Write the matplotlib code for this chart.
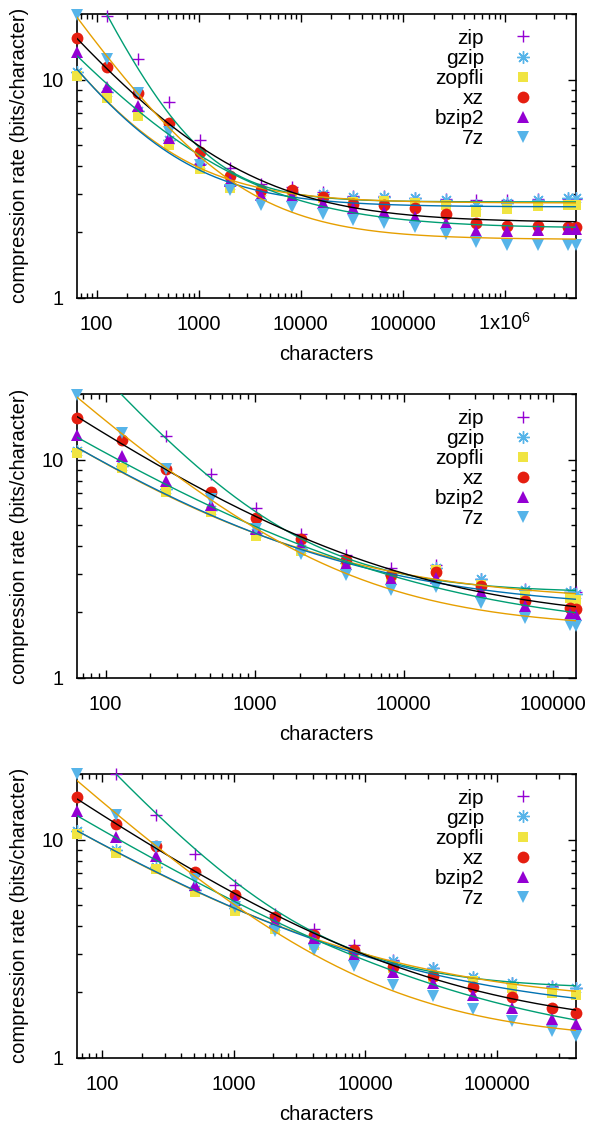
import numpy as np
import matplotlib.pyplot as plt
from matplotlib.ticker import LogLocator, FuncFormatter, NullFormatter
from matplotlib.lines import Line2D

plt.rcParams['font.family'] = ['Liberation Sans', 'DejaVu Sans']
plt.rcParams['mathtext.fontset'] = 'custom'
plt.rcParams['mathtext.rm'] = 'Liberation Sans'
plt.rcParams['mathtext.it'] = 'Liberation Sans'

# compressors, in legend order
names = ['zip', 'gzip', 'zopfli', 'xz', 'bzip2', '7z']

# top panel: prefixes 2^6 .. 2^22 plus the whole file
top_chars = [64, 128, 256, 512, 1024, 2048, 4096, 8192, 16384, 32768, 65536,
             131072, 262144, 524288, 1048576, 2097152, 4194304, 4940000]
top_zip = [36.0, 19.6, 12.4, 7.9, 5.27, 3.94, 3.34, 3.22, 3.04, 2.92, 2.93, 2.88, 2.85, 2.82, 2.82, 2.83, 2.85, 2.85]
top_gzip = [10.9, 8.8, 7.2, 5.3, 4.1, 3.3, 3.1, 3.05, 3.0, 2.9, 2.9, 2.87, 2.82, 2.67, 2.73, 2.8, 2.87, 2.87]
top_zopfli = [10.4, 8.24, 6.79, 5.0, 3.91, 3.19, 3.04, 2.97, 2.87, 2.75, 2.77, 2.73, 2.66, 2.48, 2.55, 2.63, 2.67, 2.67]
top_xz = [15.5, 11.4, 8.72, 6.35, 4.66, 3.62, 3.13, 3.11, 2.9, 2.70, 2.67, 2.57, 2.43, 2.19, 2.14, 2.13, 2.11, 2.11]
top_bzip2 = [13.4, 9.25, 7.57, 5.40, 4.27, 3.43, 2.95, 2.92, 2.72, 2.57, 2.48, 2.35, 2.20, 2.02, 2.02, 2.04, 2.06, 2.06]
top_7z = [19.8, 12.4, 8.72, 5.76, 4.08, 3.13, 2.66, 2.61, 2.43, 2.27, 2.21, 2.11, 1.97, 1.80, 1.75, 1.74, 1.75, 1.75]
# fitted curves a + (f0 - a) * (x/64)^-c
top_fit_a = [2.75, 2.72, 2.61, 2.21, 2.08, 1.85]
top_fit_f0 = [36.6, 11.2, 11.2, 15.5, 12.9, 19.4]
top_fit_c = [1.0, 0.7, 0.7, 0.57, 0.54, 0.69]

# middle panel: 2^6 .. 2^17 plus the whole file
mid_chars = [64, 128, 256, 512, 1024, 2048, 4096, 8192, 16384, 32768, 65536, 131072, 142600]
mid_zip = [33.0, 21.5, 12.8, 8.63, 6.0, 4.58, 3.67, 3.19, 3.28, 2.83, 2.55, 2.48, 2.48]
mid_gzip = [11.0, 9.4, 7.3, 5.9, 4.6, 3.9, 3.35, 2.95, 3.19, 2.83, 2.52, 2.48, 2.43]
mid_zopfli = [10.7, 9.16, 7.11, 5.76, 4.47, 3.81, 3.28, 2.87, 3.11, 2.66, 2.37, 2.31, 2.27]
mid_xz = [15.5, 12.3, 9.1, 7.11, 5.42, 4.32, 3.46, 2.97, 3.06, 2.63, 2.24, 2.09, 2.06]
mid_bzip2 = [13.0, 10.4, 7.98, 6.18, 4.8, 4.05, 3.32, 2.85, 2.87, 2.48, 2.14, 1.97, 1.94]
mid_7z = [19.7, 13.2, 9.03, 6.58, 4.8, 3.71, 2.95, 2.52, 2.61, 2.21, 1.87, 1.74, 1.73]
mid_fit_a = [2.45, 2.22, 2.04, 1.77, 1.6, 1.68]
mid_fit_f0 = [32.8, 11.4, 11.4, 15.8, 12.7, 19.4]
mid_fit_c = [0.8, 0.49, 0.47, 0.48, 0.435, 0.623]

# bottom panel: 2^6 .. 2^18 plus the whole file
bot_chars = [64, 128, 256, 512, 1024, 2048, 4096, 8192, 16384, 32768, 65536, 131072, 262144, 399000]
bot_zip = [31.0, 19.9, 13.0, 8.63, 6.18, 4.58, 3.88, 3.28, 2.80, 2.57, 2.32, 2.21, 2.14, 2.09]
bot_gzip = [10.9, 9.0, 7.5, 5.9, 4.85, 4.0, 3.35, 3.05, 2.77, 2.57, 2.35, 2.21, 2.11, 2.09]
bot_zopfli = [10.6, 8.72, 7.31, 5.76, 4.69, 3.88, 3.28, 3.0, 2.57, 2.35, 2.25, 2.09, 1.97, 1.94]
bot_xz = [15.6, 11.8, 9.32, 7.11, 5.56, 4.42, 3.67, 3.13, 2.61, 2.37, 2.11, 1.90, 1.69, 1.60]
bot_bzip2 = [13.5, 10.3, 8.42, 6.22, 5.31, 4.2, 3.52, 2.97, 2.48, 2.21, 1.94, 1.69, 1.51, 1.42]
bot_7z = [20.0, 13.0, 9.25, 6.63, 4.92, 3.80, 3.11, 2.64, 2.15, 1.92, 1.67, 1.48, 1.33, 1.26]
bot_fit_a = [2.06, 1.72, 1.53, 1.31, 1.06, 1.19]
bot_fit_f0 = [30.7, 11.0, 11.0, 15.4, 12.9, 18.7]
bot_fit_c = [0.68, 0.395, 0.38, 0.425, 0.38, 0.55]

YMIN, YMAX = 1, 20

# gnuplot-like styles
point_colors = ['#9400d3', '#56b4e9', '#f0e442', '#e51e10', '#9400d3', '#56b4e9']
point_markers = ['+', (8, 2, 0), 's', 'o', '^', 'v']
point_sizes = [8, 9, 7.5, 8.5, 8.5, 8.5]
line_colors = ['#009e73', '#e69f00', '#0072b2', '#000000', '#009e73', '#e69f00']

panels = [
    (top_chars, [top_zip, top_gzip, top_zopfli, top_xz, top_bzip2, top_7z],
     top_fit_a, top_fit_f0, top_fit_c, 0.7349),
    (mid_chars, [mid_zip, mid_gzip, mid_zopfli, mid_xz, mid_bzip2, mid_7z],
     mid_fit_a, mid_fit_f0, mid_fit_c, 0.3965),
    (bot_chars, [bot_zip, bot_gzip, bot_zopfli, bot_xz, bot_bzip2, bot_7z],
     bot_fit_a, bot_fit_f0, bot_fit_c, 0.0582),
]

FS = 14.5


def xfmt(v, pos):
    if v >= 1e6:
        return r'1x10$^{6}$'
    return '%d' % v


fig = plt.figure(figsize=(5.92, 11.23), dpi=100)

for chars, series, fa, ff0, fc, bottom in panels:
    ax = fig.add_axes([0.1296, bottom, 0.8429, 0.2526])
    x = np.array(chars, dtype=float)
    xx = np.geomspace(x[0], x[-1], 400)
    handles = []
    for i, name in enumerate(names):
        y = np.array(series[i])
        keep = y <= YMAX * 1.01
        filled = point_markers[i] not in ('+', (8, 2, 0))
        ax.plot(x[keep], y[keep], linestyle='none', marker=point_markers[i],
                ms=point_sizes[i], color=point_colors[i],
                mew=0 if filled else 1.0, clip_on=False, zorder=3)
        yy = fa[i] + (ff0[i] - fa[i]) * (xx / x[0]) ** (-fc[i])
        ax.plot(xx, yy, color=line_colors[i], lw=1.0, zorder=4)
        handles.append(Line2D([], [], linestyle='none', marker=point_markers[i],
                              ms=point_sizes[i], color=point_colors[i],
                              mew=0 if filled else 1.0))

    ax.set_xscale('log')
    ax.set_yscale('log')
    ax.set_xlim(x[0], x[-1])
    ax.set_ylim(YMIN, YMAX)
    ax.xaxis.set_major_locator(LogLocator(base=10))
    ax.xaxis.set_minor_locator(LogLocator(base=10, subs=np.arange(2, 10)))
    ax.xaxis.set_major_formatter(FuncFormatter(xfmt))
    ax.xaxis.set_minor_formatter(NullFormatter())
    ax.yaxis.set_major_locator(LogLocator(base=10))
    ax.yaxis.set_minor_locator(LogLocator(base=10, subs=np.arange(2, 10)))
    ax.yaxis.set_major_formatter(FuncFormatter(lambda v, p: '%d' % v))
    ax.yaxis.set_minor_formatter(NullFormatter())
    ax.tick_params(which='both', direction='in', top=True, right=True,
                   labelsize=FS, color='black')
    ax.tick_params(axis='y', which='both', pad=9.5)
    ax.tick_params(axis='x', which='both', pad=23)
    ax.tick_params(which='major', length=6, width=1)
    ax.tick_params(which='minor', length=3.5, width=1)
    # keep "1x10^6" on the same baseline as the other labels
    for lab in ax.get_xticklabels():
        lab.set_verticalalignment('baseline')
    for s in ax.spines.values():
        s.set_linewidth(1.2)
    ax.set_xlabel('characters', fontsize=FS, labelpad=8)
    ax.set_ylabel('compression rate (bits/character)', fontsize=FS, labelpad=9)

    ax.legend(handles, names, loc='upper right', bbox_to_anchor=(0.937, 0.948),
              markerfirst=False, frameon=False, borderpad=0, borderaxespad=0,
              handlelength=2.0, handletextpad=0.9, labelspacing=0.05, fontsize=15)

fig.savefig('out.png', dpi=100)
